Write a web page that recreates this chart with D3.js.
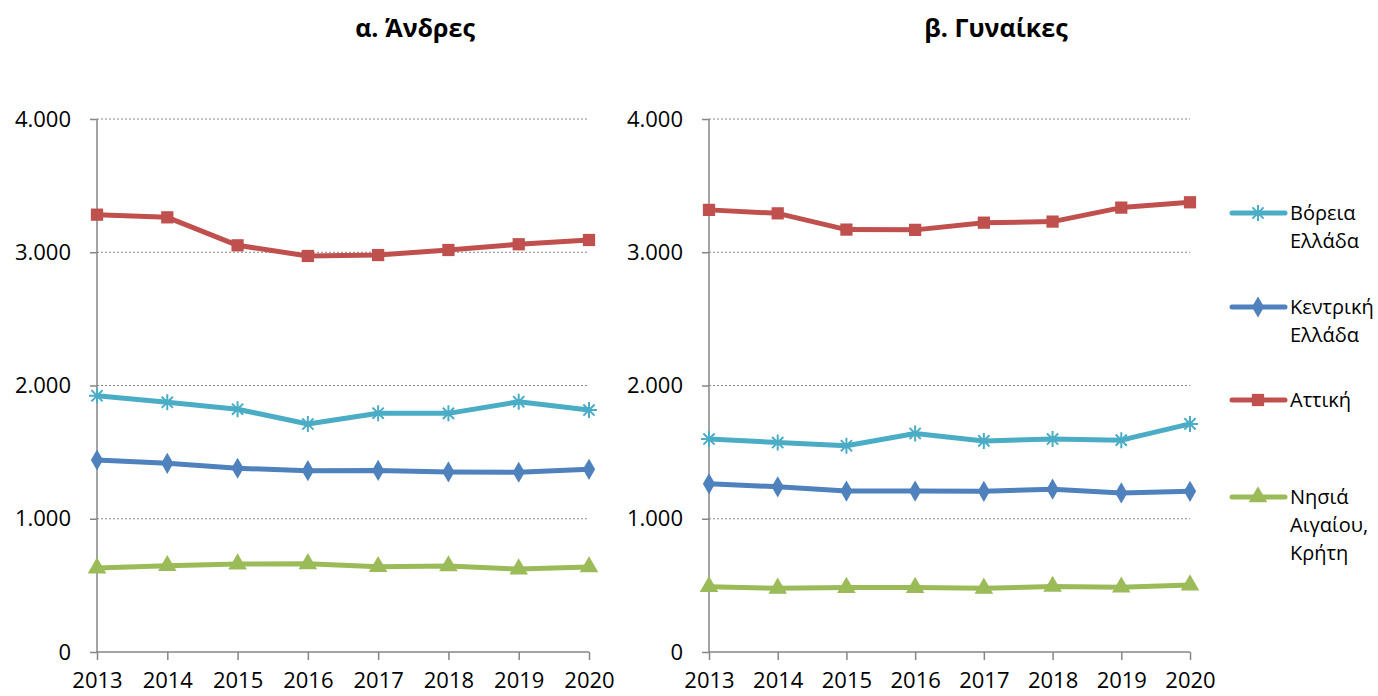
<!DOCTYPE html>
<html lang="el">
<head>
<meta charset="UTF-8">
<title>Άνδρες / Γυναίκες</title>
<script src="https://d3js.org/d3.v7.min.js"></script>
<style>
  body { margin: 0; background: #fff; font-family: 'Open Sans', 'Noto Sans', sans-serif; }
  .grid line { stroke: #868686; stroke-dasharray: 2,2; stroke-width: 1; }
  .axis path, .axis line { stroke: #868686; stroke-width: 1.5; }
  .axis text { fill: #000; font-size: 22px; font-family: 'Open Sans', sans-serif; }
  .title { font-weight: bold; font-size: 25px; }
  .legend text { font-size: 20px; }
</style>
</head>
<body>
<svg id="chart" width="1378" height="696"></svg>
<script>
const years = [2013, 2014, 2015, 2016, 2017, 2018, 2019, 2020];
const yTicks = [0, 1000, 2000, 3000, 4000];

const seriesNames = ["Βόρεια Ελλάδα", "Κεντρική Ελλάδα", "Αττική", "Νησιά Αιγαίου, Κρήτη"];
const legendLines = [["Βόρεια", "Ελλάδα"], ["Κεντρική", "Ελλάδα"], ["Αττική"], ["Νησιά", "Αιγαίου,", "Κρήτη"]];
const colors = ["#4BACC6", "#4F81BD", "#C0504D", "#9BBB59"];
const markers = ["star", "diamond", "square", "triangle"];

// α. Άνδρες
const menVoreia   = [1923, 1874, 1822, 1711, 1792, 1791, 1878, 1816];
const menKentriki = [1441, 1416, 1379, 1361, 1363, 1351, 1349, 1371];
const menAttiki   = [3282, 3262, 3052, 2972, 2979, 3017, 3060, 3092];
const menNisia    = [630, 648, 660, 662, 640, 646, 622, 638];

// β. Γυναίκες
const womenVoreia   = [1598, 1572, 1548, 1640, 1584, 1598, 1590, 1712];
const womenKentriki = [1262, 1240, 1208, 1208, 1206, 1222, 1194, 1206];
const womenAttiki   = [3318, 3292, 3170, 3168, 3222, 3230, 3335, 3375];
const womenNisia    = [490, 478, 484, 484, 478, 492, 486, 502];

const panels = [
  { title: "α. Άνδρες", x0: 97, x1: 589, tx: 415, series: [menVoreia, menKentriki, menAttiki, menNisia] },
  { title: "β. Γυναίκες", x0: 709, x1: 1190, tx: 996, series: [womenVoreia, womenKentriki, womenAttiki, womenNisia] }
];

const svg = d3.select("#chart");
const y = d3.scaleLinear().domain([0, 4000]).range([652, 119]);
const fmt = d => d === 0 ? "0" : d3.format(",")(d).replace(/,/g, ".");

function drawMarker(g, type, color, cx, cy) {
  if (type === "star") {
    const r = 8;
    g.append("path")
      .attr("d", `M${cx - r},${cy}H${cx + r}M${cx - r * 0.7},${cy - r * 0.7}L${cx + r * 0.7},${cy + r * 0.7}M${cx - r * 0.7},${cy + r * 0.7}L${cx + r * 0.7},${cy - r * 0.7}M${cx},${cy - r}V${cy + r}`)
      .attr("stroke", color).attr("stroke-width", 2).attr("fill", "none");
  } else {
    const sym = type === "diamond" ? d3.symbolDiamond : type === "square" ? d3.symbolSquare : d3.symbolTriangle;
    const size = type === "diamond" ? 130 : 150;
    g.append("path")
      .attr("d", d3.symbol().type(sym).size(size)())
      .attr("transform", `translate(${cx},${cy})`)
      .attr("fill", color);
  }
}

panels.forEach(p => {
  const x = d3.scalePoint().domain(years).range([p.x0, p.x1]);
  const g = svg.append("g");

  g.append("g").attr("class", "grid")
    .selectAll("line").data(yTicks.filter(t => t > 0)).join("line")
    .attr("x1", p.x0).attr("x2", p.x1)
    .attr("y1", d => y(d)).attr("y2", d => y(d));

  g.append("g").attr("class", "axis")
    .attr("transform", `translate(${p.x0},0)`)
    .call(d3.axisLeft(y).tickValues(yTicks).tickFormat(fmt).tickSize(7).tickPadding(19))
    .call(a => a.select(".domain").attr("d", `M0,${y(0)}V${y(4000)}`));

  g.append("g").attr("class", "axis")
    .attr("transform", `translate(0,${y(0)})`)
    .call(d3.axisBottom(x).tickSize(8).tickPadding(12).tickSizeOuter(0))
    .call(a => a.select(".domain").attr("d", `M${p.x0},0H${p.x1}`));

  g.append("text").attr("class", "title")
    .attr("x", p.tx).attr("y", 37)
    .attr("text-anchor", "middle").text(p.title);

  const line = d3.line().x((d, i) => x(years[i])).y(d => y(d));
  p.series.forEach((vals, si) => {
    g.append("path").datum(vals)
      .attr("d", line).attr("fill", "none")
      .attr("stroke", colors[si]).attr("stroke-width", 5)
      .attr("stroke-linejoin", "round");
    const mg = g.append("g");
    vals.forEach((v, i) => drawMarker(mg, markers[si], colors[si], x(years[i]), y(v)));
  });
});

// legend
const legendY = [213, 307, 400, 497];
const lg = svg.append("g").attr("class", "legend");
seriesNames.forEach((name, i) => {
  const ly = legendY[i];
  lg.append("line").attr("x1", 1232).attr("x2", 1285).attr("y1", ly).attr("y2", ly)
    .attr("stroke", colors[i]).attr("stroke-width", 5).attr("stroke-linecap", "round");
  drawMarker(lg, markers[i], colors[i], 1258, ly);
  legendLines[i].forEach((t, j) => {
    lg.append("text").attr("x", 1290).attr("y", ly + 7 + j * 28).text(t);
  });
});
</script>
</body>
</html>
